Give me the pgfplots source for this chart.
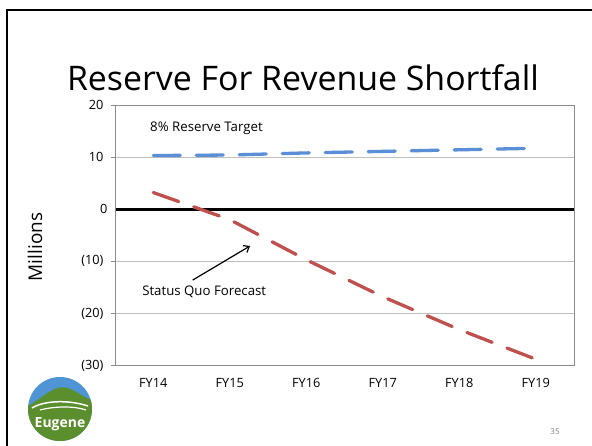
\documentclass[border=0pt]{standalone}
\usepackage{fontspec}
\setmainfont{Open Sans}
\usepackage{pgfplots}
\pgfplotsset{compat=1.18}
\usetikzlibrary{arrows.meta}
\definecolor{tgtblue}{HTML}{5A8FD8}
\definecolor{sqred}{HTML}{C0504D}
\definecolor{gridgray}{HTML}{BFBFBF}
\definecolor{axgray}{HTML}{8C8C8C}
\definecolor{logoblue}{HTML}{4F94D4}
\definecolor{logogreen}{HTML}{5B8F2E}
\begin{document}
\begin{tikzpicture}
\useasboundingbox (0bp,0bp) rectangle (592bp,446bp);
\fill[white] (0bp,0bp) rectangle (592bp,446bp);
\draw[black, line width=2.5bp] (7bp,0bp) -- (7bp,436bp) -- (592bp,436bp);
\node[anchor=base, inner sep=0pt, font=\fontsize{34}{40}\selectfont] at (303bp,355bp) {Reserve For Revenue Shortfall};
\node[rotate=90, font=\fontsize{19}{22}\selectfont] at (35bp,199bp) {Millions};
\begin{axis}[
  at={(115bp,80.5bp)}, anchor=south west,
  scale only axis,
  width=459bp, height=260.5bp,
  xmin=-0.5, xmax=5.5, ymin=-30, ymax=20,
  xtick={0,1,2,3,4,5},
  xticklabels={FY14,FY15,FY16,FY17,FY18,FY19},
  ytick={-30,-20,-10,10,20},
  yticklabels={(30),(20),(10),10,20},
  extra y ticks={0}, extra y tick labels={0},
  extra y tick style={grid=major, major grid style={black, line width=3.2bp}, major tick length=0pt},
  ymajorgrids, major grid style={gridgray, line width=0.8bp},
  axis line style={draw=none},
  tick align=outside,
  ytick pos=left,
  xtick style={draw=none},
  ytick style={axgray, line width=0.8bp},
  major tick length=4bp,
  tick label style={font=\fontsize{12.8}{15}\selectfont},
  /pgf/number format/assume math mode=true,
  xticklabel style={yshift=-5bp},
  yticklabel style={xshift=-4bp},
  clip=false,
]
\draw[axgray, line width=0.9bp] (rel axis cs:0,0) rectangle (rel axis cs:1,1);
\addplot[tgtblue, line width=3.3bp, line cap=round, dash pattern=on 27bp off 16bp] coordinates {
  (0,10.3) (1,10.4) (2,10.8) (3,11.1) (4,11.4) (5,11.7)};
\addplot[sqred, line width=3.3bp, line cap=round, dash pattern=on 27bp off 16bp] coordinates {
  (0,3.2) (1,-2.0) (2,-9.7) (3,-16.8) (4,-23.1) (5,-28.8)};
\node[font=\fontsize{13.3}{16}\selectfont] at (axis cs:0.696,15.6) {8\% Reserve Target};
\node[font=\fontsize{13.3}{16}\selectfont] at (axis cs:0.666,-15.8) {Status Quo Forecast};
\draw[line width=1.2bp, -{Straight Barb[length=5bp,width=8bp]}] (axis cs:0.516,-13.6) -- (axis cs:1.265,-7.06);
\end{axis}
% logo
\begin{scope}
\clip (60bp,37bp) circle (32bp);
\fill[logoblue] (28bp,4bp) rectangle (92bp,70bp);
\fill[logogreen] (28bp,4bp) -- (28bp,40bp) .. controls (45bp,50bp) and (55bp,62bp) .. (68bp,58bp) .. controls (78bp,54bp) and (85bp,48bp) .. (92bp,46bp) -- (92bp,4bp) -- cycle;
\draw[white, line width=1.5bp] (32bp,38bp) .. controls (45bp,46bp) and (70bp,46bp) .. (88bp,40bp);
\draw[white, line width=1.2bp] (40bp,36bp) .. controls (55bp,40bp) and (75bp,40bp) .. (86bp,36bp);
\end{scope}
\node[white, font=\bfseries\fontsize{14}{16}\selectfont] at (60bp,22bp) {Eugene};
\node[gray, font=\fontsize{8}{10}\selectfont] at (555bp,14bp) {35};
\end{tikzpicture}
\end{document}
